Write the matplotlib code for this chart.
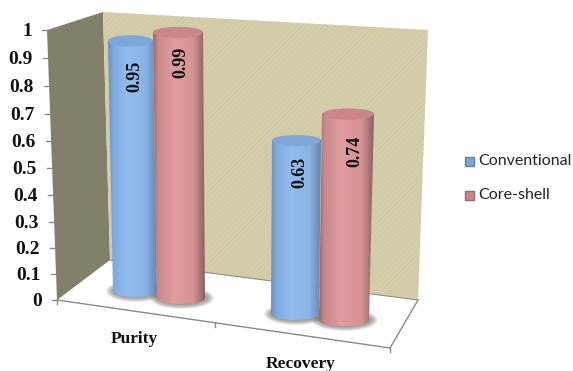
import numpy as np
import matplotlib
matplotlib.use("Agg")
import matplotlib.pyplot as plt
from matplotlib.colors import LinearSegmentedColormap
from matplotlib.patches import Ellipse, Polygon, Rectangle
from matplotlib.path import Path

categories = ["Purity", "Recovery"]
series = ["Conventional", "Core-shell"]
conventional = [0.95, 0.63]
core_shell = [0.99, 0.74]
y_ticks = [0, 0.1, 0.2, 0.3, 0.4, 0.5, 0.6, 0.7, 0.8, 0.9, 1]
y_tick_labels = ["0", "0.1", "0.2", "0.3", "0.4", "0.5", "0.6", "0.7", "0.8", "0.9", "1"]

W, H = 573, 371
SERIF = "Liberation Serif"

blue_map = LinearSegmentedColormap.from_list(
    "blue", [(0, "#6a8fbd"), (0.1, "#7ea9dc"), (0.4, "#93bdf0"), (0.78, "#8ab3e4"), (1, "#6485b0")])
red_map = LinearSegmentedColormap.from_list(
    "red", [(0, "#9a6a6c"), (0.1, "#c98a8d"), (0.4, "#e09c9f"), (0.78, "#d69295"), (1, "#8c6061")])


def axis_y(v):
    # the value axis is slightly compressed towards the floor
    return 300 - 258 * v - 12 * v * v


def axis_x(v):
    return 57 - 10 * v


def cylinder(ax, value, left_base, right_base, left_top, right_top, base_y, scale, cmap, cap):
    top_y = base_y - value * scale
    ry = 6.0
    cx_top = (left_top + right_top) / 2
    rx_top = (right_top - left_top) / 2
    cx_base = (left_base + right_base) / 2
    rx_base = (right_base - left_base) / 2

    # soft shadow on the floor
    for k in np.linspace(1.0, 0.0, 8):
        ax.add_patch(Ellipse((cx_base + 1, base_y), 2 * rx_base + 2 + 14 * k, 14 + 8 * k,
                             fc="#55524a", ec="none", alpha=0.09, zorder=3))

    t = np.linspace(0, np.pi, 40)
    top_arc = np.c_[cx_top - rx_top * np.cos(t), top_y - ry * np.sin(t)]
    base_arc = np.c_[cx_base + rx_base * np.cos(t), base_y + ry * np.sin(t)]
    body = Path(np.vstack([top_arc, base_arc, top_arc[:1]]))

    grad = np.linspace(0, 1, 128).reshape(1, -1)
    x0, x1 = min(left_top, left_base), max(right_top, right_base)
    im = ax.imshow(grad, cmap=cmap, extent=(x0, x1, base_y + ry, top_y - ry),
                   aspect="auto", zorder=4, interpolation="bilinear")
    im.set_clip_path(body, transform=ax.transData)
    ax.add_patch(Ellipse((cx_top, top_y), 2 * rx_top - 1, 2 * ry - 1, fc=cap, ec="none", zorder=5))
    return top_y


fig = plt.figure(figsize=(W / 100, H / 100), dpi=100)
ax = fig.add_axes([0, 0, 1, 1])

# chart box: left wall, back wall, floor
plt.rcParams["hatch.linewidth"] = 0.4
ax.add_patch(Polygon([(47, 30), (103, 12), (110, 260), (57, 300)], fc="#82806a", ec="none", zorder=1))
ax.add_patch(Polygon([(103, 12), (428, 30), (418, 300), (110, 260)], fc="#d3cea9", ec="#cdc8a3",
                     hatch="//////", lw=0, zorder=1))
ax.plot([110, 418], [260, 300], color="#8d8d86", lw=0.8, zorder=2)
ax.plot([418, 390, 57], [300, 348, 300], color="#8a8a8a", lw=1.0, zorder=2)

for v, lab in zip(y_ticks, y_tick_labels):
    x, y = axis_x(v), axis_y(v)
    ax.plot([x - 5, x], [y, y], color="#8a8a8a", lw=1.0, zorder=2)
    ax.text(x - 15, y + 1.5, lab, ha="right", va="center", family=SERIF, weight="bold", fontsize=14,
            color="#111111")

# floor ticks between the categories
for x, y in [(57, 300), (215, 323), (390, 348)]:
    ax.plot([x, x], [y, y + 4], color="#8a8a8a", lw=1.0, zorder=2)

ax.text(134, 339, categories[0], ha="center", va="center", family=SERIF, weight="bold",
        fontsize=12.5, color="#111111")
ax.text(301, 364, categories[1], ha="center", va="center", family=SERIF, weight="bold",
        fontsize=12.5, color="#111111")

# one cylinder per value, pixel geometry follows the perspective of the box
bars = [
    (conventional[0], 113, 157, 108, 153, 291, 263, blue_map, "#7ea6d8", 135, 35),
    (core_shell[0], 157, 205, 153, 203, 298, 268, red_map, "#c9878b", 181, 30),
    (conventional[1], 271, 319, 272, 321, 314, 275, blue_map, "#7ea6d8", 300, 32),
    (core_shell[1], 319, 369, 322, 374, 320, 278, red_map, "#c9878b", 355, 37),
]
for value, lb, rb, lt, rt, base_y, scale, cmap, cap, lab_x, lab_off in bars:
    top_y = cylinder(ax, value, lb, rb, lt, rt, base_y, scale, cmap, cap)
    ax.text(lab_x, top_y + lab_off, f"{value:.2f}", rotation=90, ha="center", va="center",
            family=SERIF, weight="bold", fontsize=13, color="#111111", zorder=6)

# legend
for name, y, face, edge in [(series[0], 161, "#7ba6d8", "#5f83ad"), (series[1], 195, "#c9878b", "#95686a")]:
    ax.add_patch(Rectangle((465, y - 4), 9, 9, fc=face, ec=edge, lw=1.0, zorder=6))
    ax.text(478, y, name, ha="left", va="center", family="Lato", fontsize=11.5, color="#222222")

ax.set_xlim(0, W)
ax.set_ylim(H, 0)
ax.axis("off")
fig.savefig("out.png", dpi=100)
